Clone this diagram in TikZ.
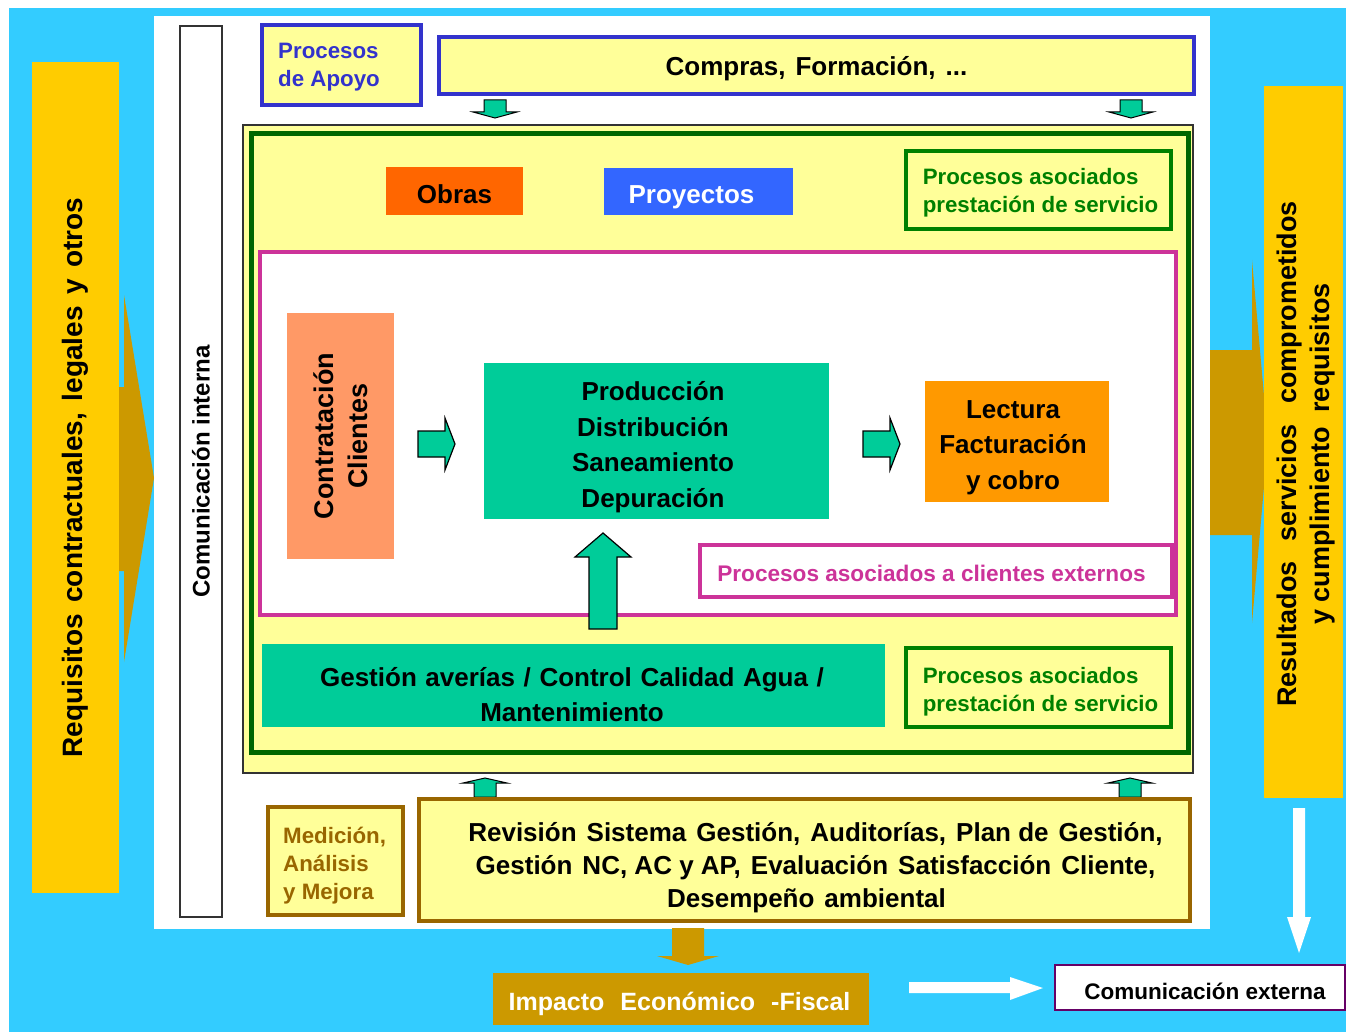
\documentclass[tikz,border=0pt]{standalone}
\usepackage{fontspec}
\setmainfont{Liberation Sans}
\definecolor{bgcyan}{HTML}{33CCFF}
\definecolor{baryellow}{HTML}{FFCC00}
\definecolor{arrgold}{HTML}{CC9900}
\definecolor{paleyellow}{HTML}{FFFF99}
\definecolor{apoyoblue}{HTML}{3333CC}
\definecolor{procgreen}{HTML}{00CC99}
\definecolor{servgreen}{HTML}{008000}
\definecolor{darkgreen}{HTML}{006600}
\definecolor{obrasorange}{HTML}{FF6600}
\definecolor{lectorange}{HTML}{FF9900}
\definecolor{salmon}{HTML}{FF9966}
\definecolor{proyblue}{HTML}{3366FF}
\definecolor{clientmag}{HTML}{CC3399}
\definecolor{mejorabrown}{HTML}{996600}
\definecolor{extpurple}{HTML}{660066}
\newcommand{\bigfont}{\fontsize{26}{35.5}\selectfont\bfseries}
\newcommand{\smallfont}{\fontsize{22.3}{28}\selectfont\bfseries}
\tikzset{
  panel/.style={rectangle, inner sep=0pt, align=center},
  bigtext/.style={font=\bigfont, inner sep=0pt, align=center},
  smalltext/.style={font=\smallfont, inner sep=0pt, align=left},
  apoyobox/.style={panel, draw=apoyoblue, line width=4pt, fill=paleyellow},
  servbox/.style={panel, draw=servgreen, line width=3.5pt, fill=paleyellow},
  mejorabox/.style={panel, draw=mejorabrown, line width=4pt, fill=paleyellow},
  procbox/.style={panel, fill=procgreen},
  blockarrow/.style={fill=procgreen, draw=black, line width=1.2pt, line join=miter},
}
\begin{document}
\begin{tikzpicture}[x=1pt, y=-1pt]
\useasboundingbox (0,0) rectangle (1346,1032);
% background
\fill[bgcyan] (9,8) rectangle (1346,1032);
\fill[white] (154,16) rectangle (1210,929);

% requisitos (entrada)
\fill[arrgold] (100,387) -- (124,387) -- (124,295) -- (154,478) -- (124,662) -- (124,571) -- (100,571) -- cycle;
\node[panel, fill=baryellow, rotate=90, minimum width=831, minimum height=87,
  font=\fontsize{28}{34}\selectfont\bfseries] (req) at (75.5,477.5)
  {Requisitos\hspace{11.5pt}contractuales,\hspace{11.5pt}legales\hspace{11.5pt}y\hspace{11.5pt}otros};

% resultados (salida)
\fill[arrgold] (1210,350) -- (1252,350) -- (1252,260) -- (1268,441) -- (1252,623) -- (1252,535) -- (1210,535) -- cycle;
\node[panel, fill=baryellow, minimum width=79, minimum height=712] (res) at (1303.5,442) {};
\node[panel, rotate=90, font=\fontsize{27}{33}\selectfont\bfseries] (restext) at (1306,454)
  {Resultados\hspace{20pt}servicios\hspace{20pt}comprometidos\\y cumplimiento\hspace{14pt}requisitos};

% comunicacion interna
\node[panel, draw=black!80, line width=1.5pt, fill=white, rotate=90, minimum width=891, minimum height=42,
  font=\fontsize{24}{28}\selectfont\bfseries] (comint) at (201,471.5) {Comunicación interna};

% procesos de apoyo
\node[apoyobox, minimum width=159, minimum height=80] (apoyo) at (341.5,65) {};
\node[smalltext, text=apoyoblue, anchor=west] (apoyotext) at ([xshift=18pt, yshift=-2.5pt]apoyo.west) {Procesos\\de Apoyo};
\node[apoyobox, minimum width=755, minimum height=57] (compras) at (816.5,65.5) {};
\node[bigtext] (comprastext) at ([yshift=-3pt]compras.center) {Compras,\hspace{10pt}Formación,\hspace{10pt}...};
\draw[blockarrow, line width=1pt] (484,100) -- (506,100) -- (506,112) -- (517,112) -- (495,118) -- (473,112) -- (484,112) -- cycle;
\draw[blockarrow, line width=1pt] (1120,100) -- (1142,100) -- (1142,112) -- (1153,112) -- (1131,118) -- (1109,112) -- (1120,112) -- cycle;

% bloque de procesos
\node[panel, draw=black!80, line width=1.5pt, fill=paleyellow, minimum width=950, minimum height=648] (core) at (718,449) {};
\node[panel, draw=darkgreen, line width=5pt, minimum width=937, minimum height=618] (serv) at (719.5,443) {};
\node[panel, fill=obrasorange, minimum width=137, minimum height=48] (obras) at (454.5,191) {};
\node[bigtext] (obrastext) at ([yshift=-3pt]obras.center) {Obras};
\node[panel, fill=proyblue, minimum width=189, minimum height=47] (proy) at (698.5,191.5) {};
\node[bigtext, text=white] (proytext) at ([xshift=-7pt, yshift=-6pt]proy.center) {Proyectos};
\node[servbox, minimum width=265, minimum height=78] (servtop) at (1038.5,190) {};
\node[smalltext, text=servgreen] (servtoptext) at ([xshift=2pt, yshift=-3pt]servtop.center) {Procesos asociados\\prestación de servicio};

% clientes externos
\node[panel, draw=clientmag, line width=4pt, fill=white, minimum width=916, minimum height=363] (clientes) at (718,433.5) {};
\node[panel, fill=salmon, rotate=90, minimum width=246, minimum height=107,
  font=\fontsize{27}{34}\selectfont\bfseries] (contr) at (340.5,436) {Contratación\\Clientes};
\node[procbox, minimum width=345, minimum height=156] (prod) at (656.5,441) {};
\node[bigtext] (prodtext) at ([xshift=-3.5pt, yshift=-6pt]prod.center) {Producción\\Distribución\\Saneamiento\\Depuración};
\node[panel, fill=lectorange, minimum width=184, minimum height=121] (lect) at (1017,441.5) {};
\node[bigtext] (lecttext) at ([xshift=-4pt, yshift=-6pt]lect.center) {Lectura\\Facturación\\y cobro};
\draw[blockarrow] (418,431) -- (445,431) -- (445,418) -- (455,444) -- (445,470) -- (445,457) -- (418,457) -- cycle;
\draw[blockarrow] (863,431) -- (890,431) -- (890,418) -- (900,444) -- (890,470) -- (890,457) -- (863,457) -- cycle;
\node[panel, draw=clientmag, line width=3.5pt, fill=white, minimum width=472, minimum height=52] (ext) at (936,571) {};
\node[font=\fontsize{22.6}{28}\selectfont\bfseries, inner sep=0pt, text=clientmag] (exttext)
  at ([xshift=-4.5pt, yshift=-2pt]ext.center) {Procesos asociados a clientes externos};
\draw[blockarrow] (589,629) -- (589,557) -- (575,557) -- (603,533) -- (631,557) -- (617,557) -- (617,629) -- cycle;

% gestion
\node[procbox, minimum width=623, minimum height=83] (aver) at (573.5,685.5) {};
\node[bigtext, font=\fontsize{26}{35}\selectfont\bfseries] (avertext) at ([xshift=-1.5pt, yshift=-9pt]aver.center)
  {Gestión\hspace{8.6pt}averías\hspace{8.6pt}/\hspace{8.6pt}Control\hspace{8.6pt}Calidad\hspace{8.6pt}Agua\hspace{8.6pt}/\\Mantenimiento};
\node[servbox, minimum width=265, minimum height=79] (servbot) at (1038.5,687.5) {};
\node[smalltext, text=servgreen] (servbottext) at ([xshift=2pt, yshift=-4pt]servbot.center) {Procesos asociados\\prestación de servicio};

% medicion, analisis y mejora
\draw[blockarrow, line width=1pt] (474,797) -- (474,783) -- (463,783) -- (485,778) -- (507,783) -- (496,783) -- (496,797) -- cycle;
\draw[blockarrow, line width=1pt] (1119,797) -- (1119,783) -- (1108,783) -- (1130,778) -- (1152,783) -- (1141,783) -- (1141,797) -- cycle;
\node[mejorabox, minimum width=135, minimum height=108] (mejora) at (335.5,861) {};
\node[smalltext, text=mejorabrown, anchor=west] (mejoratext) at ([xshift=17pt, yshift=-5pt]mejora.west) {Medición,\\Análisis\\y Mejora};
\node[mejorabox, minimum width=771, minimum height=122] (rev) at (804.5,860) {};
\node[bigtext, font=\fontsize{26}{33}\selectfont\bfseries] (revtext) at ([xshift=11pt, yshift=-8pt]rev.center)
  {Revisión\hspace{10pt}Sistema\hspace{10pt}Gestión,\hspace{10pt}Auditorías,\hspace{10pt}Plan de\hspace{10pt}Gestión,\\
   Gestión\hspace{10pt}NC, AC y AP,\hspace{10pt}Evaluación\hspace{10pt}Satisfacción\hspace{10pt}Cliente,\\
   Desempeño\hspace{10pt}ambiental\hspace*{18pt}};

% impacto y comunicacion externa
\fill[arrgold] (672,928) -- (704,928) -- (704,956) -- (719,956) -- (688,965) -- (657,956) -- (672,956) -- cycle;
\node[panel, fill=arrgold, minimum width=376, minimum height=52] (imp) at (681,999) {};
\node[font=\fontsize{25}{30}\selectfont\bfseries, inner sep=0pt, text=white] (imptext) at ([xshift=-1.5pt, yshift=-5pt]imp.center)
  {Impacto\hspace{16pt}Económico\hspace{16pt}-Fiscal};
\fill[white] (909,982) -- (1010,982) -- (1010,977) -- (1043,988) -- (1010,1000) -- (1010,993) -- (909,993) -- cycle;
\fill[white] (1293,808) -- (1305,808) -- (1305,917) -- (1311,917) -- (1299,953) -- (1287,917) -- (1293,917) -- cycle;
\node[panel, draw=extpurple, line width=1.5pt, fill=white, minimum width=290, minimum height=45] (comext) at (1200,987.5) {};
\node[font=\fontsize{22.5}{26}\selectfont\bfseries, inner sep=0pt] (comexttext) at ([xshift=5pt, yshift=-4pt]comext.center) {Comunicación externa};
\end{tikzpicture}
\end{document}
